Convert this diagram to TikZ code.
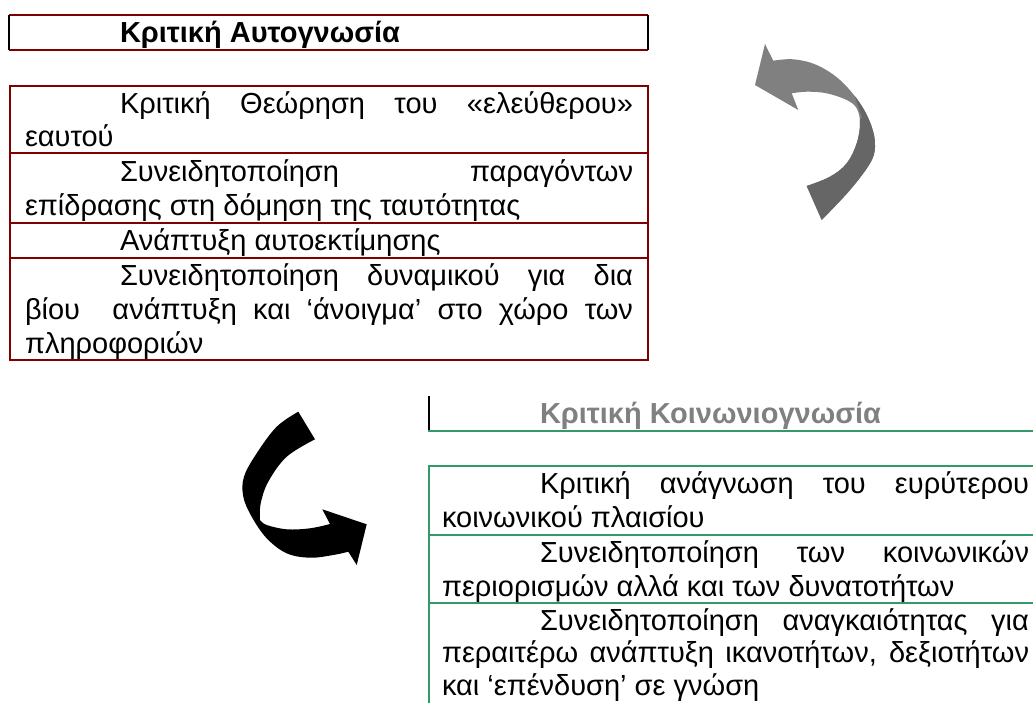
\documentclass[tikz,border=0pt]{standalone}
\usepackage{fontspec}
\setmainfont{Liberation Sans}
\definecolor{dred}{RGB}{128,0,0}
\definecolor{lgreen}{RGB}{51,153,102}
\definecolor{hgray}{RGB}{128,128,128}
\definecolor{agray}{RGB}{128,128,128}
\definecolor{agrayd}{RGB}{102,102,102}
\newcommand\jl[2]{\makebox[#1pt][s]{#2}}
\begin{document}
\begin{tikzpicture}[x=1pt,y=-1pt,
  txt/.style={anchor=base west, inner sep=0pt, outer sep=0pt, font=\fontsize{29}{34}\selectfont},
  hdr/.style={txt, font=\fontsize{29}{34}\selectfont\bfseries},
  redline/.style={draw=dred, line width=2pt},
  sideline/.style={draw=black, line width=2pt},
  grnline/.style={draw=lgreen, line width=1.5pt}]
\useasboundingbox (0,0) rectangle (1033,702);

% ---- Header 1
\draw[redline] (9,15) -- (648,15) (9,50) -- (648,50);
\draw[sideline] (9,15) -- (9,50) (648,15) -- (648,50);
\node[hdr] (h1) at (120,42) {Κριτική Αυτογνωσία};

% ---- Box 2
\draw[redline] (10,86) rectangle (648,360);
\draw[redline] (10,153.3) -- (648,153.3) (10,223.3) -- (648,223.3) (10,258.3) -- (648,258.3);
\node[txt] (a1) at (120,113) {\jl{513}{Κριτική Θεώρηση του «ελεύθερου»}};
\node[txt] (a2) at (25,146) {εαυτού};
\node[txt] (b1) at (120,181) {\jl{513}{Συνειδητοποίηση παραγόντων}};
\node[txt] (b2) at (25,215) {επίδρασης στη δόμηση της ταυτότητας};
\node[txt] (c1) at (120,250) {Ανάπτυξη αυτοεκτίμησης};
\node[txt] (d1) at (120,285.5) {\jl{513}{Συνειδητοποίηση δυναμικού για δια}};
\node[txt] (d2) at (25,319.5) {\jl{608}{βίου \ ανάπτυξη και ‘άνοιγμα’ στο χώρο των}};
\node[txt] (d3) at (25,353.5) {πληροφοριών};

% ---- Header 2
\draw[draw=black, line width=1.5pt] (429,396) -- (429,431);
\draw[grnline] (428,431) -- (1033,431);
\node[hdr, text=hgray] (h2) at (540,423) {Κριτική Κοινωνιογνωσία};

% ---- Box 3
\draw[grnline] (1040,466) -- (429,466) -- (429,710);
\draw[grnline] (429,535) -- (1040,535) (429,603) -- (1040,603);
\node[txt] (e1) at (540,493) {\jl{489}{Κριτική ανάγνωση του ευρύτερου}};
\node[txt] (e2) at (442,527) {κοινωνικού πλαισίου};
\node[txt] (f1) at (540,562.5) {\jl{489}{Συνειδητοποίηση των κοινωνικών}};
\node[txt] (f2) at (442,596.5) {περιορισμών αλλά και των δυνατοτήτων};
\node[txt] (g1) at (540,630) {\jl{489}{Συνειδητοποίηση αναγκαιότητας για}};
\node[txt] (g2) at (442,662.5) {\jl{587}{περαιτέρω ανάπτυξη ικανοτήτων, δεξιοτήτων}};
\node[txt] (g3) at (442,695.5) {και ‘επένδυση’ σε γνώση};

% ---- Gray curved arrow
\def\grayarrow{(806.7,186) -- (821.7,220)
  -- plot[smooth, tension=0.6] coordinates {(821.7,220) (850,190) (870,163.3) (875,146.7) (871.7,126.7) (860,103.3) (840,80) (816.7,65) (793.3,59.3) (773.3,60.7)}
  -- (765,44) -- (755,85) -- (798.3,110) -- (791.7,93.3)
  -- plot[smooth, tension=0.6] coordinates {(791.7,93.3) (806.7,91.7) (826.7,93.3) (846.7,100) (856.7,108.3) (860,123.3) (856.7,143.3) (846.7,163.3) (830,176.7) (806.7,186)} -- cycle}
\fill[agray] \grayarrow;
\begin{scope}
  \clip (848,75) -- (862,118) -- (780,175) -- (780,240) -- (900,240) -- (900,75) -- cycle;
  \fill[agrayd] \grayarrow;
\end{scope}

% ---- Black curved arrow
\fill[black] (298.3,411.7)
  -- plot[smooth, tension=0.6] coordinates {(298.3,411.7) (276.7,426.7) (256.7,453.3) (244,476.7) (243.3,496.7) (251.7,516.7) (266.7,538.3) (286.7,553.3) (310,557.7) (333.3,555) (348.3,551.7)}
  -- (356.7,565) -- (366.7,524.3) -- (322.3,509.3) -- (330,524)
  -- plot[smooth, tension=0.6] coordinates {(330,524) (310,528.3) (286.7,529.3) (266.7,525) (260,520)}
  -- plot[smooth, tension=0.6] coordinates {(260,520) (260.7,503.3) (268.3,481.7) (286.7,456.7) (315,439.3)}
  -- cycle;
\end{tikzpicture}
\end{document}
